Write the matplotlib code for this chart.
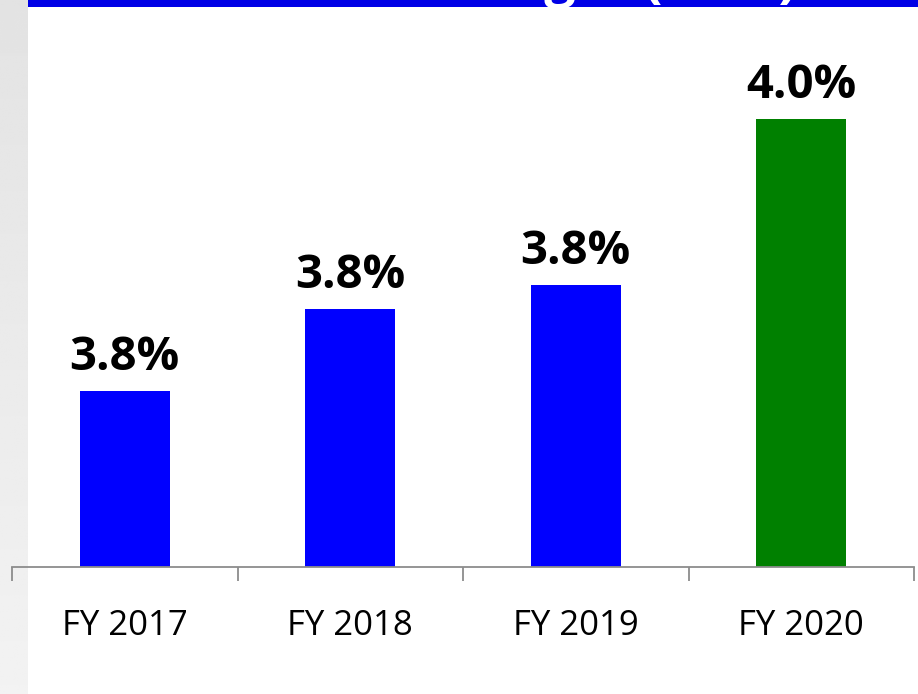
import matplotlib.pyplot as plt
import matplotlib.patches as patches
import numpy as np

# Data
years = ["FY 2017", "FY 2018", "FY 2019", "FY 2020"]
margin = [3.755, 3.827, 3.848, 3.994]
bar_colors = ["#0000FF", "#0000FF", "#0000FF", "#008000"]

fig = plt.figure(figsize=(9.18, 6.94), dpi=100)
fig.patch.set_facecolor("white")

# left grey strip of the slide background
strip = fig.add_axes([0, 0, 28 / 918, 1])
grad = np.linspace(0.89, 0.95, 256).reshape(-1, 1)
strip.imshow(grad, aspect="auto", cmap="gray", vmin=0, vmax=1, extent=[0, 1, 0, 1])
strip.axis("off")

# blue title banner cut at the top
fig.patches.append(patches.Rectangle((28 / 918, 1 - 7 / 694), 1, 7 / 694,
                                     transform=fig.transFigure, fc="#0000E6", ec="none"))
fig.text(797 / 918, 1 + 4 / 694, "Net Interest Margin (NIM)", ha="right", va="baseline",
         fontsize=40, fontweight="bold", color="white", family="Open Sans")

ax = fig.add_axes([12 / 918, 127 / 694, 902 / 918, 547 / 694])
ax.set_facecolor("none")
x = np.arange(len(years))
bars = ax.bar(x, margin, width=0.4, color=bar_colors)
ax.set_ylim(3.6, 4.081)
ax.set_xlim(-0.5, len(years) - 0.5)

for b, v in zip(bars, margin):
    ax.annotate(f"{v:.1f}%", (b.get_x() + b.get_width() / 2, v),
                xytext=(0, 15), textcoords="offset points",
                ha="center", va="baseline", fontsize=34, fontweight="bold",
                family="Open Sans", color="black")

for s in ["top", "right", "left"]:
    ax.spines[s].set_visible(False)
ax.spines["bottom"].set_color("#8c8c8c")
ax.spines["bottom"].set_linewidth(1.3)
ax.set_yticks([])
ax.set_xticks(np.arange(-0.5, len(years), 1.0))
ax.set_xticklabels([])
ax.tick_params(axis="x", length=10, width=1.3, color="#8c8c8c")
ax.set_xticks(x, minor=True)
ax.set_xticklabels(years, minor=True, fontsize=25, family="Open Sans")
ax.tick_params(axis="x", which="minor", length=0, pad=30)

fig.savefig("out.png", dpi=100)
